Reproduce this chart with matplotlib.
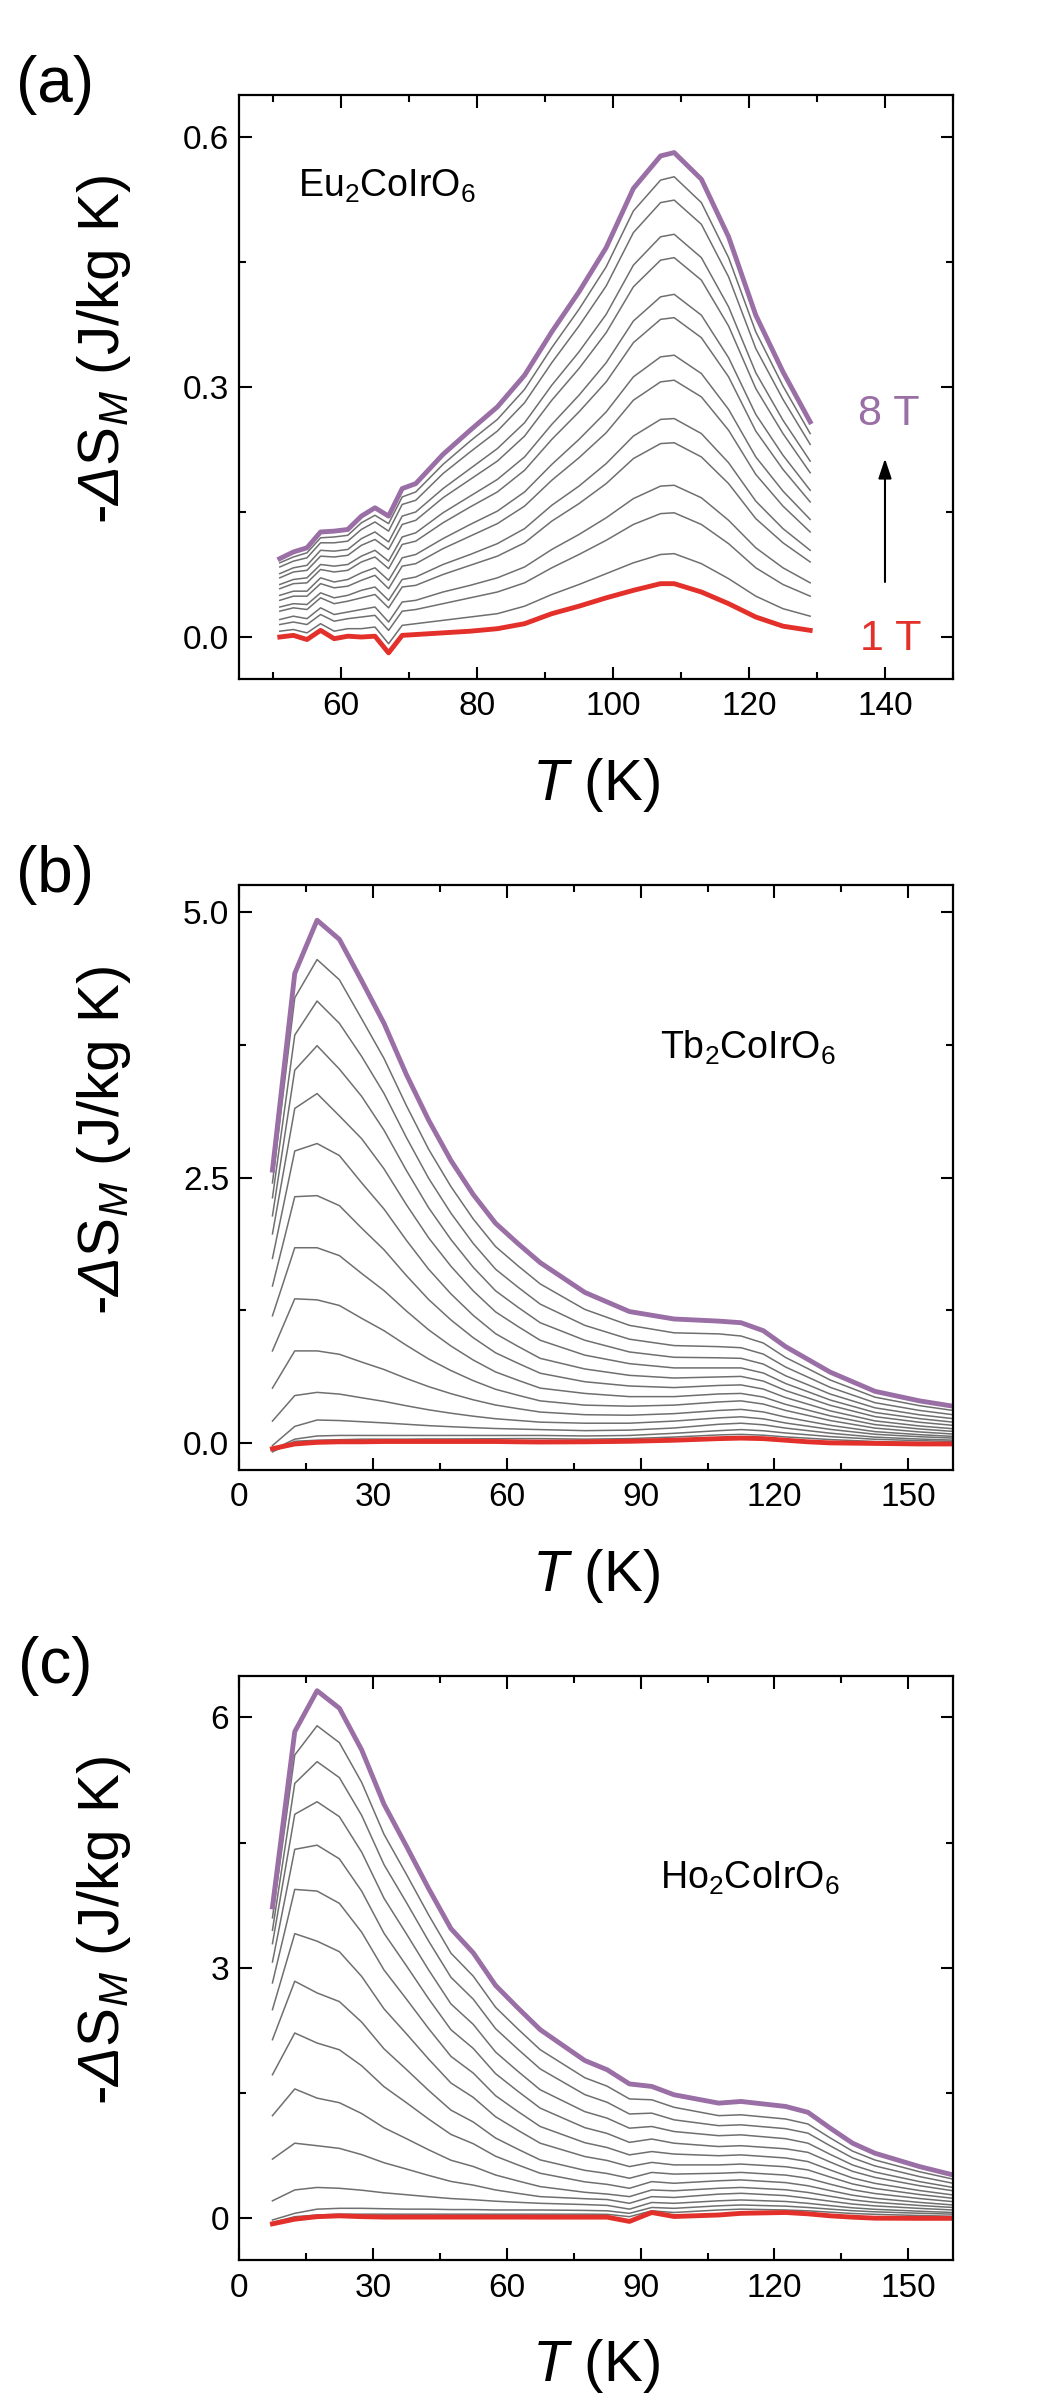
import matplotlib
matplotlib.use('Agg')
import matplotlib.pyplot as plt
from matplotlib.ticker import MultipleLocator, FormatStrFormatter

plt.rcParams['font.family'] = ['Liberation Sans', 'DejaVu Sans']
plt.rcParams['mathtext.fontset'] = 'custom'
plt.rcParams['mathtext.rm'] = 'Liberation Sans'
plt.rcParams['mathtext.it'] = 'Liberation Sans:italic'
plt.rcParams['mathtext.sf'] = 'Liberation Sans:italic'

# fields 1 T ... 8 T in 0.5 T steps (first row = 1 T, last row = 8 T)
fields = [1.0, 1.5, 2.0, 2.5, 3.0, 3.5, 4.0, 4.5, 5.0, 5.5, 6.0, 6.5, 7.0, 7.5, 8.0]

# (a) Eu2CoIrO6
eu_T = [51, 53, 55, 57, 59, 61, 63, 65, 67, 69, 71, 75, 79, 83, 87, 91, 95, 99, 103, 107, 109, 113, 117, 121, 125, 129]
eu_dS = [
    [0.000, 0.002, -0.003, 0.008, -0.002, 0.001, 0.000, 0.001, -0.019, 0.002, 0.003, 0.005, 0.007, 0.010, 0.016, 0.028, 0.037, 0.047, 0.056, 0.064, 0.064, 0.054, 0.040, 0.024, 0.013, 0.008],
    [0.007, 0.009, 0.005, 0.016, 0.007, 0.010, 0.010, 0.012, -0.008, 0.014, 0.016, 0.020, 0.024, 0.028, 0.037, 0.051, 0.063, 0.076, 0.089, 0.099, 0.100, 0.088, 0.070, 0.049, 0.034, 0.025],
    [0.015, 0.018, 0.015, 0.027, 0.019, 0.022, 0.024, 0.026, 0.008, 0.031, 0.033, 0.040, 0.047, 0.054, 0.065, 0.083, 0.099, 0.116, 0.135, 0.148, 0.149, 0.135, 0.112, 0.083, 0.063, 0.049],
    [0.021, 0.025, 0.022, 0.035, 0.027, 0.030, 0.033, 0.036, 0.018, 0.042, 0.044, 0.054, 0.062, 0.071, 0.084, 0.105, 0.123, 0.143, 0.166, 0.181, 0.182, 0.167, 0.140, 0.107, 0.083, 0.065],
    [0.031, 0.035, 0.033, 0.047, 0.040, 0.043, 0.047, 0.051, 0.035, 0.060, 0.062, 0.075, 0.086, 0.097, 0.113, 0.139, 0.160, 0.184, 0.214, 0.232, 0.233, 0.216, 0.184, 0.142, 0.113, 0.090],
    [0.036, 0.040, 0.039, 0.053, 0.047, 0.050, 0.056, 0.060, 0.044, 0.069, 0.072, 0.087, 0.099, 0.112, 0.130, 0.158, 0.181, 0.208, 0.241, 0.261, 0.262, 0.244, 0.209, 0.163, 0.130, 0.104],
    [0.044, 0.049, 0.049, 0.064, 0.059, 0.061, 0.068, 0.074, 0.058, 0.085, 0.088, 0.106, 0.121, 0.136, 0.157, 0.188, 0.215, 0.245, 0.284, 0.306, 0.308, 0.288, 0.248, 0.195, 0.157, 0.126],
    [0.050, 0.055, 0.055, 0.071, 0.066, 0.069, 0.077, 0.083, 0.068, 0.095, 0.099, 0.118, 0.135, 0.151, 0.174, 0.207, 0.237, 0.270, 0.312, 0.336, 0.338, 0.316, 0.273, 0.216, 0.175, 0.141],
    [0.058, 0.064, 0.065, 0.081, 0.078, 0.080, 0.090, 0.096, 0.082, 0.111, 0.115, 0.137, 0.156, 0.174, 0.200, 0.237, 0.270, 0.306, 0.353, 0.381, 0.383, 0.359, 0.312, 0.247, 0.201, 0.162],
    [0.063, 0.069, 0.071, 0.087, 0.085, 0.087, 0.097, 0.104, 0.091, 0.120, 0.125, 0.149, 0.169, 0.189, 0.216, 0.255, 0.290, 0.329, 0.379, 0.408, 0.411, 0.386, 0.335, 0.267, 0.218, 0.176],
    [0.071, 0.078, 0.080, 0.097, 0.096, 0.098, 0.110, 0.117, 0.105, 0.135, 0.140, 0.167, 0.189, 0.211, 0.241, 0.284, 0.322, 0.365, 0.420, 0.452, 0.455, 0.428, 0.373, 0.298, 0.244, 0.197],
    [0.076, 0.083, 0.086, 0.104, 0.103, 0.105, 0.118, 0.126, 0.114, 0.145, 0.150, 0.178, 0.202, 0.226, 0.257, 0.302, 0.342, 0.387, 0.446, 0.480, 0.483, 0.455, 0.396, 0.317, 0.260, 0.211],
    [0.084, 0.091, 0.095, 0.113, 0.113, 0.115, 0.129, 0.138, 0.127, 0.159, 0.164, 0.196, 0.222, 0.247, 0.281, 0.329, 0.373, 0.421, 0.485, 0.521, 0.524, 0.495, 0.432, 0.346, 0.285, 0.231],
    [0.089, 0.096, 0.101, 0.119, 0.120, 0.122, 0.137, 0.146, 0.136, 0.168, 0.174, 0.207, 0.235, 0.261, 0.297, 0.347, 0.393, 0.444, 0.511, 0.548, 0.552, 0.521, 0.455, 0.366, 0.301, 0.244],
    [0.094, 0.102, 0.107, 0.126, 0.127, 0.129, 0.145, 0.155, 0.145, 0.178, 0.184, 0.219, 0.248, 0.276, 0.314, 0.366, 0.414, 0.467, 0.538, 0.577, 0.581, 0.549, 0.480, 0.386, 0.318, 0.258],
]

# (b) Tb2CoIrO6
tb_T = [7.5, 12.5, 17.5, 22.5, 27.5, 32.5, 37.5, 42.5, 47.5, 52.5, 57.5, 62.5, 67.5, 77.5, 87.5, 97.5, 107.5, 112.5, 117.5, 122.5, 127.5, 132.5, 142.5, 152.5, 160]
tb_dS = [
    [-0.05, -0.005, 0.01, 0.015, 0.015, 0.018, 0.018, 0.018, 0.018, 0.018, 0.018, 0.015, 0.013, 0.015, 0.02, 0.03, 0.045, 0.05, 0.045, 0.03, 0.015, 0.005, 0.0, -0.005, -0.005],
    [-0.08, 0.02, 0.03, 0.035, 0.04, 0.04, 0.04, 0.042, 0.042, 0.043, 0.044, 0.045, 0.045, 0.04, 0.045, 0.06, 0.08, 0.085, 0.077, 0.061, 0.049, 0.036, 0.018, 0.008, 0.003],
    [-0.06, 0.04, 0.07, 0.075, 0.075, 0.075, 0.075, 0.075, 0.075, 0.075, 0.075, 0.075, 0.075, 0.07, 0.075, 0.095, 0.12, 0.13, 0.119, 0.098, 0.081, 0.064, 0.039, 0.026, 0.019],
    [-0.02, 0.16, 0.22, 0.215, 0.204, 0.193, 0.18, 0.167, 0.157, 0.148, 0.14, 0.135, 0.13, 0.12, 0.125, 0.145, 0.18, 0.19, 0.175, 0.144, 0.12, 0.096, 0.059, 0.041, 0.031],
    [0.21, 0.45, 0.48, 0.464, 0.429, 0.395, 0.354, 0.316, 0.284, 0.256, 0.232, 0.216, 0.20, 0.19, 0.19, 0.21, 0.24, 0.25, 0.231, 0.192, 0.162, 0.132, 0.086, 0.063, 0.05],
    [0.52, 0.87, 0.87, 0.838, 0.765, 0.695, 0.611, 0.534, 0.468, 0.41, 0.361, 0.327, 0.295, 0.27, 0.265, 0.28, 0.31, 0.32, 0.296, 0.247, 0.208, 0.17, 0.111, 0.082, 0.066],
    [0.87, 1.36, 1.35, 1.297, 1.176, 1.06, 0.923, 0.794, 0.685, 0.59, 0.509, 0.453, 0.40, 0.36, 0.35, 0.36, 0.39, 0.40, 0.37, 0.31, 0.263, 0.215, 0.144, 0.108, 0.088],
    [1.20, 1.84, 1.84, 1.766, 1.598, 1.437, 1.246, 1.068, 0.916, 0.784, 0.672, 0.594, 0.52, 0.47, 0.44, 0.44, 0.465, 0.47, 0.436, 0.367, 0.313, 0.259, 0.177, 0.136, 0.113],
    [1.48, 2.32, 2.33, 2.236, 2.024, 1.821, 1.579, 1.353, 1.161, 0.994, 0.852, 0.754, 0.66, 0.58, 0.54, 0.525, 0.545, 0.55, 0.511, 0.431, 0.369, 0.306, 0.212, 0.164, 0.138],
    [1.74, 2.75, 2.82, 2.707, 2.45, 2.204, 1.911, 1.638, 1.406, 1.204, 1.032, 0.913, 0.80, 0.70, 0.64, 0.615, 0.625, 0.63, 0.586, 0.497, 0.428, 0.358, 0.252, 0.199, 0.17],
    [1.97, 3.15, 3.29, 3.08, 2.865, 2.582, 2.246, 1.933, 1.666, 1.434, 1.237, 1.10, 0.97, 0.83, 0.75, 0.71, 0.71, 0.71, 0.662, 0.563, 0.486, 0.408, 0.291, 0.233, 0.20],
    [2.14, 3.51, 3.74, 3.52, 3.263, 2.945, 2.568, 2.216, 1.917, 1.656, 1.435, 1.281, 1.135, 0.97, 0.86, 0.81, 0.805, 0.80, 0.746, 0.636, 0.551, 0.464, 0.335, 0.269, 0.233],
    [2.31, 3.84, 4.16, 3.95, 3.638, 3.291, 2.878, 2.493, 2.165, 1.88, 1.638, 1.47, 1.31, 1.11, 0.98, 0.92, 0.91, 0.90, 0.84, 0.718, 0.623, 0.527, 0.383, 0.31, 0.27],
    [2.45, 4.19, 4.55, 4.36, 3.992, 3.62, 3.178, 2.766, 2.415, 2.11, 1.851, 1.671, 1.50, 1.26, 1.11, 1.04, 1.03, 1.01, 0.944, 0.808, 0.703, 0.596, 0.435, 0.355, 0.31],
    [2.57, 4.42, 4.92, 4.74, 4.35, 3.95, 3.47, 3.04, 2.66, 2.34, 2.07, 1.88, 1.70, 1.42, 1.24, 1.17, 1.15, 1.135, 1.06, 0.91, 0.79, 0.67, 0.49, 0.40, 0.35],
]

# (c) Ho2CoIrO6
ho_T = [7.5, 12.5, 17.5, 22.5, 27.5, 32.5, 37.5, 42.5, 47.5, 52.5, 57.5, 62.5, 67.5, 77.5, 82.5, 87.5, 92.5, 97.5, 107.5, 112.5, 122.5, 127.5, 132.5, 137.5, 142.5, 152.5, 160]
ho_dS = [
    [-0.066, -0.01, 0.02, 0.03, 0.02, 0.015, 0.015, 0.015, 0.015, 0.015, 0.015, 0.015, 0.014, 0.014, 0.014, -0.037, 0.07, 0.022, 0.04, 0.06, 0.07, 0.054, 0.03, 0.014, 0.002, 0.0, 0.0],
    [-0.05, 0.02, 0.04, 0.05, 0.05, 0.05, 0.05, 0.05, 0.05, 0.05, 0.05, 0.05, 0.05, 0.05, 0.048, 0.02, 0.09, 0.07, 0.10, 0.11, 0.10, 0.09, 0.074, 0.058, 0.048, 0.034, 0.025],
    [-0.02, 0.06, 0.11, 0.12, 0.12, 0.115, 0.11, 0.11, 0.105, 0.105, 0.10, 0.10, 0.10, 0.095, 0.09, 0.06, 0.13, 0.12, 0.15, 0.16, 0.146, 0.13, 0.11, 0.091, 0.078, 0.061, 0.05],
    [0.21, 0.34, 0.37, 0.36, 0.337, 0.306, 0.283, 0.259, 0.237, 0.223, 0.205, 0.192, 0.18, 0.165, 0.155, 0.11, 0.19, 0.18, 0.21, 0.22, 0.202, 0.18, 0.152, 0.126, 0.108, 0.085, 0.07],
    [0.71, 0.90, 0.87, 0.838, 0.763, 0.666, 0.591, 0.514, 0.442, 0.398, 0.34, 0.299, 0.26, 0.235, 0.225, 0.18, 0.26, 0.25, 0.29, 0.30, 0.272, 0.24, 0.205, 0.171, 0.149, 0.119, 0.10],
    [1.23, 1.55, 1.44, 1.385, 1.255, 1.085, 0.955, 0.821, 0.696, 0.621, 0.519, 0.448, 0.38, 0.312, 0.291, 0.26, 0.34, 0.33, 0.36, 0.37, 0.342, 0.31, 0.264, 0.221, 0.192, 0.154, 0.13],
    [1.72, 2.22, 2.10, 2.019, 1.827, 1.577, 1.386, 1.189, 1.005, 0.894, 0.744, 0.64, 0.54, 0.437, 0.407, 0.36, 0.44, 0.42, 0.45, 0.46, 0.428, 0.39, 0.332, 0.277, 0.24, 0.191, 0.16],
    [2.14, 2.84, 2.70, 2.596, 2.35, 2.03, 1.784, 1.532, 1.296, 1.154, 0.962, 0.828, 0.70, 0.575, 0.537, 0.48, 0.55, 0.53, 0.54, 0.55, 0.518, 0.48, 0.409, 0.342, 0.297, 0.237, 0.20],
    [2.50, 3.41, 3.32, 3.194, 2.897, 2.509, 2.212, 1.907, 1.621, 1.449, 1.217, 1.055, 0.90, 0.74, 0.693, 0.62, 0.67, 0.64, 0.64, 0.65, 0.618, 0.58, 0.494, 0.412, 0.358, 0.285, 0.24],
    [2.82, 3.94, 3.92, 3.773, 3.427, 2.975, 2.628, 2.273, 1.94, 1.74, 1.469, 1.28, 1.10, 0.906, 0.848, 0.76, 0.80, 0.77, 0.75, 0.76, 0.723, 0.68, 0.579, 0.483, 0.419, 0.333, 0.28],
    [3.07, 4.42, 4.47, 4.306, 3.919, 3.415, 3.027, 2.63, 2.259, 2.035, 1.733, 1.522, 1.32, 1.086, 1.017, 0.91, 0.95, 0.90, 0.86, 0.87, 0.833, 0.79, 0.674, 0.563, 0.49, 0.391, 0.33],
    [3.29, 4.84, 4.99, 4.811, 4.386, 3.834, 3.41, 2.975, 2.568, 2.323, 1.992, 1.761, 1.54, 1.278, 1.20, 1.08, 1.10, 1.04, 0.99, 1.00, 0.954, 0.90, 0.766, 0.639, 0.554, 0.44, 0.37],
    [3.45, 5.21, 5.47, 5.279, 4.826, 4.237, 3.785, 3.321, 2.887, 2.625, 2.272, 2.026, 1.79, 1.482, 1.39, 1.25, 1.26, 1.18, 1.11, 1.12, 1.074, 1.02, 0.868, 0.724, 0.628, 0.50, 0.42],
    [3.60, 5.55, 5.90, 5.698, 5.221, 4.60, 4.123, 3.634, 3.176, 2.901, 2.528, 2.268, 2.02, 1.684, 1.583, 1.43, 1.42, 1.33, 1.23, 1.24, 1.19, 1.13, 0.963, 0.805, 0.699, 0.558, 0.47],
    [3.73, 5.83, 6.32, 6.11, 5.61, 4.96, 4.46, 3.95, 3.47, 3.18, 2.79, 2.52, 2.26, 1.89, 1.78, 1.61, 1.58, 1.48, 1.38, 1.40, 1.34, 1.27, 1.08, 0.90, 0.78, 0.62, 0.52],
]

purple = '#9a6fa6'
red = '#e3302a'
gray = '#6f6f6f'

fig = plt.figure(figsize=(10.5, 24), dpi=100)

panels = [
    # label, compound, T, data, xlim, ylim, xmaj, ymaj, yfmt, axes rect, compound pos
    ('(a)', r'Eu$_2$CoIrO$_6$', eu_T, eu_dS, (45, 150), (-0.05, 0.65), 20, 0.3, '%.1f',
     [0.2276, 0.7172, 0.68, 0.2432], (0.082, 0.825)),
    ('(b)', r'Tb$_2$CoIrO$_6$', tb_T, tb_dS, (0, 160), (-0.25, 5.25), 30, 2.5, '%.1f',
     [0.2276, 0.3875, 0.68, 0.2437], (0.59, 0.703)),
    ('(c)', r'Ho$_2$CoIrO$_6$', ho_T, ho_dS, (0, 160), (-0.5, 6.5), 30, 3, '%d',
     [0.2276, 0.0583, 0.68, 0.2435], (0.59, 0.636)),
]

for lab, comp, T, data, xlim, ylim, xmaj, ymaj, yfmt, rect, cpos in panels:
    ax = fig.add_axes(rect)
    for row in data[1:-1]:
        ax.plot(T, row, color=gray, lw=1.1)
    ax.plot(T, data[0], color=red, lw=3.5)
    ax.plot(T, data[-1], color=purple, lw=3.5)

    ax.set_xlim(*xlim)
    ax.set_ylim(*ylim)
    ax.xaxis.set_major_locator(MultipleLocator(xmaj))
    ax.xaxis.set_minor_locator(MultipleLocator(xmaj / 2))
    ax.yaxis.set_major_locator(MultipleLocator(ymaj))
    ax.yaxis.set_minor_locator(MultipleLocator(ymaj / 2))
    ax.yaxis.set_major_formatter(FormatStrFormatter(yfmt))
    ax.tick_params(which='both', direction='in', top=True, right=True, width=1.5)
    ax.tick_params(which='major', length=9, labelsize=24)
    ax.tick_params(which='minor', length=5)
    ax.tick_params(axis='x', pad=9)
    ax.tick_params(axis='y', pad=7)
    for sp in ax.spines.values():
        sp.set_linewidth(1.6)

    ax.text(-0.189, 0.564, r'-$\mathsf{\Delta}$S$_{\mathit{M}}$ (J/kg K)', transform=ax.transAxes,
            rotation=90, ha='center', va='center', fontsize=42)
    ax.text(0.5, -0.182, r'$\mathit{T}$ (K)', transform=ax.transAxes,
            ha='center', va='center', fontsize=42)
    ax.text(-0.258, 1.017, lab, transform=ax.transAxes, ha='center', va='center', fontsize=46)
    ax.text(cpos[0], cpos[1], comp, transform=ax.transAxes, ha='left', va='baseline', fontsize=27)

    if lab == '(a)':
        ax.annotate('', xy=(140, 0.214), xytext=(140, 0.066),
                    arrowprops=dict(arrowstyle='-|>,head_length=0.6,head_width=0.2',
                                    color='black', lw=1.5, mutation_scale=20,
                                    shrinkA=0, shrinkB=0))
        ax.text(140.6, 0.267, '8 T', color=purple, ha='center', va='center', fontsize=31)
        ax.text(140.8, -0.002, '1 T', color=red, ha='center', va='center', fontsize=31)

fig.savefig('out.png', dpi=100)
